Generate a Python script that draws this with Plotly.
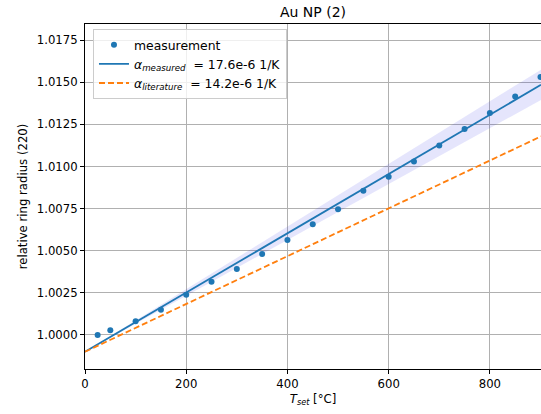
import numpy as np
import plotly.graph_objects as go

# measured data
T_set = [25, 50, 100, 150, 200, 250, 300, 350, 400, 450, 500, 550, 600, 650, 700, 750, 800, 850, 900]
rel_radius = [1.00000, 1.00028, 1.00081, 1.00150, 1.00238, 1.00315, 1.00392, 1.00481, 1.00564,
              1.00657, 1.00746, 1.00855, 1.00938, 1.01029, 1.01124, 1.01222, 1.01317, 1.01415, 1.01530]

# model parameters
R0 = 0.9990
ALPHA_MEAS = 17.6e-6
ALPHA_LIT = 14.2e-6
ALPHA_ERR = 1.0e-6

x_ticks = [0, 200, 400, 600, 800]
y_ticks = [1.0000, 1.0025, 1.0050, 1.0075, 1.0100, 1.0125, 1.0150, 1.0175]
y_ticklabels = ["1.0000", "1.0025", "1.0050", "1.0075", "1.0100", "1.0125", "1.0150", "1.0175"]

T_line = np.linspace(0, 901, 50)
fit_meas = R0 * (1 + ALPHA_MEAS * T_line)
fit_lit = R0 * (1 + ALPHA_LIT * T_line)
band_hi = R0 * (1 + (ALPHA_MEAS + ALPHA_ERR) * T_line)
band_lo = R0 * (1 + (ALPHA_MEAS - ALPHA_ERR) * T_line)

FONT = "DejaVu Sans"
fig = go.Figure()

fig.add_trace(go.Scatter(x=np.concatenate([T_line, T_line[::-1]]),
                         y=np.concatenate([band_hi, band_lo[::-1]]),
                         fill="toself", fillcolor="rgba(0,0,230,0.10)",
                         line=dict(width=0), mode="lines", showlegend=False, hoverinfo="skip"))
fig.add_trace(go.Scatter(x=T_set, y=rel_radius, mode="markers",
                         marker=dict(color="#1f77b4", size=6),
                         name="measurement"))
fig.add_trace(go.Scatter(x=T_line, y=fit_meas, mode="lines",
                         line=dict(color="#1f77b4", width=1.8),
                         name="<i>α<sub>measured</sub></i>  = 17.6e-6 1/K"))
fig.add_trace(go.Scatter(x=T_line, y=fit_lit, mode="lines",
                         line=dict(color="#ff7f0e", width=1.8, dash="6px,3px"),
                         name="<i>α<sub>literature</sub></i>  = 14.2e-6 1/K"))

axis_common = dict(showline=True, linecolor="black", linewidth=1, mirror=True,
                   ticks="outside", ticklen=4, tickwidth=1, tickcolor="black",
                   showgrid=True, gridcolor="#b0b0b0", gridwidth=1, zeroline=False,
                   tickfont=dict(family=FONT, size=11.7, color="black"))

fig.update_xaxes(range=[0, 901], tickvals=x_ticks, ticktext=[str(v) for v in x_ticks],
                 title=dict(text="<i>T<sub>set</sub></i> [°C]", font=dict(family=FONT, size=11.7, color="black"),
                            standoff=4),
                 **axis_common)
fig.update_yaxes(range=[0.99798, 1.01845], tickvals=y_ticks, ticktext=y_ticklabels,
                 title=dict(text="relative ring radius (220)", font=dict(family=FONT, size=11.7, color="black"),
                            standoff=6),
                 **axis_common)

fig.update_layout(
    width=541, height=414,
    margin=dict(l=85, r=0, t=24, b=45),
    paper_bgcolor="white", plot_bgcolor="white",
    title=dict(text="Au NP (2)", x=(85 + 541) / 2 / 541, xanchor="center", y=1 - 12 / 414, yanchor="middle",
               font=dict(family=FONT, size=14, color="black")),
    font=dict(family=FONT, size=11.7, color="black"),
    legend=dict(x=0.0175, y=0.985, xanchor="left", yanchor="top",
                bgcolor="rgba(255,255,255,0.8)", bordercolor="#cccccc", borderwidth=1,
                font=dict(family=FONT, size=12.4, color="black"), tracegroupgap=0),
    showlegend=True,
)

fig.write_html("out.html")
